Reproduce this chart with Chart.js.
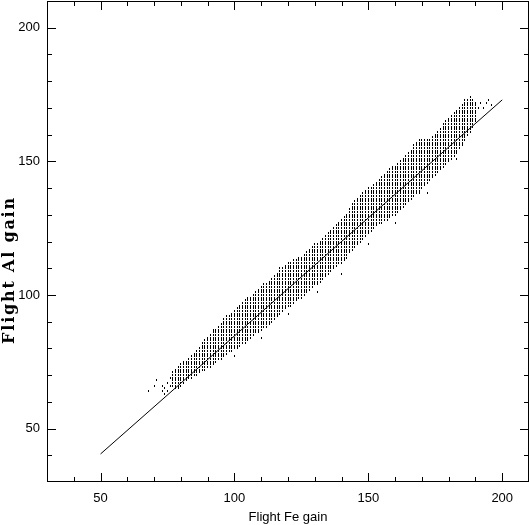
<!DOCTYPE html>
<html><head><meta charset="utf-8">
<script src="https://cdn.jsdelivr.net/npm/chart.js@4"></script>
<style>html,body{margin:0;padding:0;background:#fff}</style>
</head><body>
<canvas id="c" width="529" height="525"></canvas>
<script>
// ---- data ----
const colX  = [77,78,79,80,81,82,83,84,85,86,87,88,89,90,91,92,93,94,95,96,97,98,99,100,101,102,103,104,105,106,107,108,109,110,111,112,113,114,115,116,117,118,119,120,121,122,123,124,125,126,127,128,129,130,131,132,133,134,135,136,137,138,139,140,141,142,143,144,145,146,147,148,149,150,151,152,153,154,155,156,157,158,159,160,161,162,163,164,165,166,167,168,169,170,171,172,173,174,175,176,177,178,179,180,181,182,183,184,185,186,187,188,189,190];
const colLo = [66,65,65,66,67,68,69,69,70,70,71,72,72,73,73,74,75,76,76,77,78,79,79,80,80,81,82,82,83,84,85,86,86,87,88,88,89,90,91,92,93,94,95,96,96,97,98,99,99,100,101,102,103,104,104,105,106,107,108,109,110,111,112,112,113,114,116,117,118,119,120,121,122,123,124,125,126,127,127,128,128,129,130,130,131,132,133,134,135,136,137,138,138,140,141,142,143,144,145,146,147,148,149,150,151,152,153,155,156,158,160,161,163,165];
const colHi = [71,72,73,74,75,75,76,77,78,79,80,82,83,84,85,87,87,88,89,91,92,92,93,94,95,96,97,98,99,99,100,101,102,103,104,104,105,106,107,108,110,110,111,112,112,113,113,114,114,115,116,117,118,119,119,120,121,122,123,124,125,126,127,128,129,130,132,134,135,136,137,138,139,140,140,141,142,143,144,145,146,147,148,148,149,150,151,152,153,154,156,157,158,158,158,158,158,159,160,161,162,164,165,166,167,168,169,170,171,173,173,174,173,172];
const extraX = [68,70,71,73,73,74,74,75,75,76,76,191,192,193,194,195,196,172,150,140,120,100,160,131,110,183];
const extraY = [64,66,68,64,66,63,65,64,67,66,69,170,172,170,172,173,171,138,119,108,93,77,127,101,84,151];
const fitX = [50, 200];
const fitY = [40.5, 173];
const xTicks = [50, 100, 150, 200];
const yTicks = [50, 100, 150, 200];
const xTitle = 'Flight Fe gain';
const yTitle = 'Flight Al gain';

const pts = [];
colX.forEach((x, i) => { for (let v = colLo[i]; v <= colHi[i]; v++) pts.push({x: x, y: v}); });
extraX.forEach((x, i) => pts.push({x: x, y: extraY[i]}));
const fit = fitX.map((x, i) => ({x: x, y: fitY[i]}));

const mark = document.createElement('canvas');
mark.width = 1; mark.height = 2;
const mc = mark.getContext('2d'); mc.fillStyle = '#000'; mc.fillRect(0, 0, 1, 2);

const framePlugin = {
  id: 'frame',
  beforeDatasetsDraw(chart) { chart.ctx.imageSmoothingEnabled = false; },
  afterDraw(chart) {
    const {ctx, chartArea: a, scales: {x, y}} = chart;
    ctx.save();
    ctx.imageSmoothingEnabled = true;
    ctx.strokeStyle = '#000'; ctx.lineWidth = 1;
    ctx.strokeRect(a.left + 0.5, a.top + 0.5, a.right - a.left - 1, a.bottom - a.top - 1);
    ctx.beginPath();
    for (let v = 40; v <= 200; v += 10) {
      const len = v % 50 === 0 ? 9 : 5;
      const px = Math.round(x.getPixelForValue(v)) + 0.5;
      ctx.moveTo(px, a.bottom); ctx.lineTo(px, a.bottom - len);
      ctx.moveTo(px, a.top); ctx.lineTo(px, a.top + len);
      const py = Math.round(y.getPixelForValue(v)) + 0.5;
      ctx.moveTo(a.left, py); ctx.lineTo(a.left + len, py);
      ctx.moveTo(a.right, py); ctx.lineTo(a.right - len, py);
    }
    ctx.stroke();
    ctx.translate(10, 270);
    ctx.rotate(-Math.PI / 2);
    ctx.font = 'bold 16px "DejaVu Serif"';
    ctx.fillStyle = '#000';
    ctx.textAlign = 'center';
    ctx.textBaseline = 'middle';
    const w = ctx.measureText(yTitle).width;
    const target = 146;
    if ('letterSpacing' in ctx) ctx.letterSpacing = ((target - w) / (yTitle.length - 1)).toFixed(2) + 'px';
    ctx.fillText(yTitle, 0, 0);
    ctx.restore();
  }
};

new Chart(document.getElementById('c'), {
  data: {
    datasets: [
      {type: 'scatter', data: pts, pointStyle: mark, pointRadius: 1, pointHoverRadius: 0, pointBorderWidth: 0, pointHoverBorderWidth: 0, showLine: false},
      {type: 'line', data: fit, borderColor: '#000', borderWidth: 1, pointRadius: 0, pointHoverRadius: 0, pointBorderWidth: 0, pointHoverBorderWidth: 0, fill: false, tension: 0}
    ]
  },
  options: {
    responsive: false, animation: false, events: [],
    layout: {autoPadding: false, padding: {top: 1, right: 0, left: 0, bottom: 0}},
    plugins: {legend: {display: false}, tooltip: {enabled: false}},
    scales: {
      x: {
        type: 'linear', min: 30, max: 210,
        afterBuildTicks: s => { s.ticks = xTicks.map(v => ({value: v})); },
        afterFit: s => { s.height = 43; s.paddingLeft = 0; s.paddingRight = 0; },
        grid: {display: false, drawTicks: false},
        border: {display: false},
        ticks: {padding: 9, color: '#000', font: {family: '"Liberation Sans"', size: 13}, maxRotation: 0},
        title: {display: true, text: xTitle, color: '#000', font: {family: '"Liberation Sans"', size: 13}, padding: {top: 0, bottom: 0}}
      },
      y: {
        type: 'linear', min: 30, max: 210,
        afterBuildTicks: s => { s.ticks = yTicks.map(v => ({value: v})); },
        afterFit: s => { s.width = 47; s.paddingTop = 0; s.paddingBottom = 0; },
        grid: {display: false, drawTicks: false},
        border: {display: false},
        ticks: {padding: 7, color: '#000', font: {family: '"Liberation Sans"', size: 13}},
        title: {display: false}
      }
    }
  },
  plugins: [framePlugin]
});
</script></body></html>
